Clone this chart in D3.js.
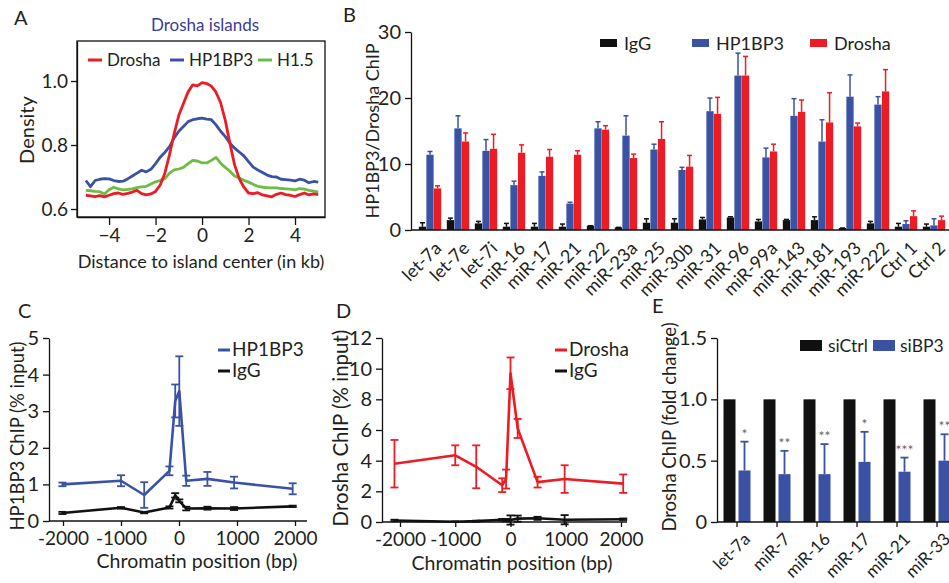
<!DOCTYPE html>
<html><head><meta charset="utf-8">
<script src="https://cdn.jsdelivr.net/npm/d3@7"></script>
<style>
body{margin:0;background:#fff;}
svg{display:block;font-family:Lato,"Open Sans",sans-serif;}
</style></head><body>
<svg id="fig" width="949" height="583"></svg>
<script>
// ---------- Panel A data ----------
const aKb = [-5.0,-4.8,-4.6,-4.4,-4.2,-4.0,-3.8,-3.6,-3.4,-3.2,-3.0,-2.8,-2.6,-2.4,-2.2,-2.0,-1.8,-1.6,-1.4,-1.2,-1.0,-0.8,-0.6,-0.4,-0.2,0.0,0.2,0.4,0.6,0.8,1.0,1.2,1.4,1.6,1.8,2.0,2.2,2.4,2.6,2.8,3.0,3.2,3.4,3.6,3.8,4.0,4.2,4.4,4.6,4.8,5.0];
const aDrosha = [0.643,0.641,0.639,0.642,0.638,0.643,0.648,0.650,0.646,0.649,0.653,0.658,0.648,0.644,0.647,0.655,0.675,0.712,0.770,0.835,0.893,0.930,0.966,0.988,0.985,0.995,0.992,0.984,0.965,0.932,0.877,0.805,0.738,0.695,0.668,0.650,0.648,0.651,0.644,0.641,0.638,0.646,0.650,0.645,0.643,0.639,0.645,0.650,0.644,0.647,0.645];
const aHP1BP3 = [0.689,0.670,0.689,0.693,0.695,0.694,0.689,0.686,0.687,0.694,0.703,0.712,0.721,0.716,0.724,0.742,0.762,0.777,0.795,0.822,0.843,0.858,0.873,0.879,0.882,0.884,0.881,0.879,0.863,0.843,0.826,0.806,0.790,0.778,0.766,0.748,0.731,0.722,0.714,0.706,0.701,0.700,0.693,0.692,0.690,0.688,0.693,0.690,0.682,0.686,0.684];
const aH15 = [0.658,0.657,0.655,0.654,0.647,0.660,0.668,0.663,0.660,0.661,0.663,0.667,0.669,0.671,0.678,0.685,0.689,0.695,0.712,0.722,0.725,0.730,0.742,0.752,0.750,0.744,0.744,0.752,0.761,0.743,0.730,0.718,0.703,0.697,0.690,0.684,0.677,0.671,0.668,0.667,0.666,0.666,0.664,0.663,0.662,0.660,0.664,0.662,0.658,0.656,0.653];
const aYTicks = [0.6,0.8,1.0];
const aXTicks = [-4,-2,0,2,4];

// ---------- Panel B data ----------
const bCats = ["let-7a","let-7e","let-7i","miR-16","miR-17","miR-21","miR-22","miR-23a","miR-25","miR-30b","miR-31","miR-96","miR-99a","miR-143","miR-181","miR-193","miR-222","Ctrl 1","Ctrl 2"];
const bSeries = ["IgG","HP1BP3","Drosha"];
const bIgG    = [0.5,1.5,1.0,0.5,0.5,0.5,0.65,0.4,1.1,1.1,1.6,1.9,1.3,1.5,1.5,0.3,1.0,0.5,0.5];
const bIgGErr = [0.6,0.3,0.3,0.5,0.5,0.4,0.0,0.0,0.6,0.6,0.3,0.1,0.3,0.1,0.5,0.0,0.3,0.5,0.4];
const bHP     = [11.4,15.4,12.0,6.8,8.2,4.0,15.4,14.3,12.2,9.1,18.0,23.4,11.0,17.3,13.4,20.2,19.0,0.9,0.7];
const bHPErr  = [0.5,1.9,1.7,0.6,0.6,0.2,1.0,3.0,0.8,0.4,2.0,3.4,1.4,2.6,3.3,3.3,1.2,0.5,1.0];
const bDro    = [6.3,13.4,12.3,11.7,11.1,11.4,15.2,10.9,13.8,9.6,17.6,23.4,11.9,17.9,16.3,15.7,21.0,2.1,1.5];
const bDroErr = [0.4,1.3,2.2,1.2,1.1,0.6,0.6,0.6,2.6,1.7,2.5,2.9,1.1,1.8,4.5,0.5,3.3,0.8,0.6];
const bYTicks = [0,10,20,30];

// ---------- Panel C data ----------
const cX      = [-2010,-1000,-600,-165,-65,5,125,490,950,1960];
const cHP     = [1.0,1.1,0.71,1.37,3.28,3.55,1.1,1.15,1.05,0.88];
const cHPErr  = [0.05,0.15,0.35,0.12,0.45,0.95,0.14,0.19,0.16,0.15];
const cIgG    = [0.22,0.36,0.23,0.37,0.70,0.55,0.34,0.35,0.34,0.40];
const cIgGErr = [0.03,0.02,0.02,0.03,0.06,0.04,0.05,0.04,0.04,0.02];
const cYTicks = [0,1,2,3,4,5];
const cXTicks = [-2000,-1000,0,1000,2000];

// ---------- Panel D data ----------
const dX      = [-2100,-1000,-620,-150,-80,0,130,490,980,2040];
const dDro    = [3.8,4.35,3.6,2.4,2.8,9.7,6.1,2.6,2.8,2.5];
const dDroErr = [1.55,0.65,1.4,0.45,0.62,1.03,0.62,0.35,0.9,0.6];
const dIgG    = [0.1,0.02,0.06,0.15,0.12,0.13,0.22,0.24,0.15,0.18];
const dIgGErr = [0.05,0.02,0.03,0.05,0.08,0.3,0.2,0.1,0.3,0.05];
const dYTicks = [0,2,4,6,8,10,12];
const dXTicks = [-2000,-1000,0,1000,2000];

// ---------- Panel E data ----------
const eCats   = ["let-7a","miR-7","miR-16","miR-17","miR-21","miR-33"];
const eSeries = ["siCtrl","siBP3"];
const eCtrl   = [1,1,1,1,1,1];
const eBP3    = [0.42,0.39,0.39,0.49,0.41,0.50];
const eBP3Err = [0.235,0.19,0.245,0.245,0.115,0.215];
const eSig    = ["*","**","**","*","***","**"];
const eYTicks = [0,0.5,1.0,1.5];

// ---------- styles ----------
const RED = "#ec1c24", BLUE = "#3a52a3", GREEN = "#6cbd45", BLK = "#111", TXT = "#231f20";
const FS = 19;
const svg = d3.select("#fig");

function styleAxis(g, fs){
  g.selectAll("path,line").attr("stroke", BLK).attr("stroke-width", 1.3);
  g.selectAll("text").attr("fill", TXT).style("font-size", (fs||FS)+"px").style("font-family","Lato,'Open Sans',sans-serif");
}
function label(x, y, t, opts){
  opts = opts||{};
  const el = svg.append("text").attr("x",x).attr("y",y).text(t)
    .attr("fill", opts.fill||TXT).style("font-size",(opts.fs||FS)+"px")
    .attr("text-anchor", opts.anchor||"start");
  if (opts.rot) el.attr("transform",`rotate(${opts.rot},${x},${y})`);
  return el;
}
const fmtMinus = d => (d<0 ? "\u2212"+Math.abs(d) : String(d));
const fmtPlain = d => String(d);

// ================= PANEL A =================
{
  const x = d3.scaleLinear().domain([-5.38,5.29]).range([77,325]);
  const y = d3.scaleLinear().domain([0.575,1.125]).range([217,41]);
  svg.append("rect").attr("x",x.range()[0]).attr("y",y.range()[1])
     .attr("width",x.range()[1]-x.range()[0]).attr("height",y.range()[0]-y.range()[1])
     .attr("fill","none").attr("stroke",BLK).attr("stroke-width",1.3);
  const gy = svg.append("g").attr("transform",`translate(${x.range()[0]},0)`)
     .call(d3.axisLeft(y).tickValues(aYTicks).tickFormat(d3.format(".1f")).tickSize(6).tickSizeOuter(0).tickPadding(3));
  styleAxis(gy);
  const gx = svg.append("g").attr("transform",`translate(0,${y.range()[0]})`)
     .call(d3.axisBottom(x).tickValues(aXTicks).tickFormat(fmtMinus).tickSize(8).tickSizeOuter(0).tickPadding(4));
  styleAxis(gx);
  const line = d3.line().x((d,i)=>x(aKb[i])).y(d=>y(d));
  [[aH15,GREEN],[aHP1BP3,BLUE],[aDrosha,RED]].forEach(([s,c])=>{
    svg.append("path").datum(s).attr("d",line).attr("fill","none").attr("stroke",c).attr("stroke-width",2.8).attr("stroke-linejoin","round");
  });
  const leg = [["Drosha",RED,88],["HP1BP3",BLUE,170],["H1.5",GREEN,258]];
  leg.forEach(([t,c,lx])=>{
    svg.append("line").attr("x1",lx).attr("x2",lx+14).attr("y1",60).attr("y2",60).attr("stroke",c).attr("stroke-width",3);
    label(lx+19,66,t,{fs:17});
  });
  label(205,31,"Drosha islands",{fill:"#3c3c9c",anchor:"middle",fs:17});
  label(14,25,"A",{fs:20});
  label(34,130,"Density",{anchor:"middle",rot:-90,fs:20});
  label(201,268,"Distance to island center (in kb)",{anchor:"middle",fs:18});
}

// ================= PANEL B =================
{
  const x = d3.scaleBand().domain(bCats).range([416,948]).paddingInner(0.18).paddingOuter(0.09);
  const xi = d3.scaleBand().domain(bSeries).range([0,x.bandwidth()]).padding(0.04);
  const y = d3.scaleLinear().domain([0,30]).range([230,32]);
  const vals = {IgG:[bIgG,bIgGErr,BLK], HP1BP3:[bHP,bHPErr,BLUE], Drosha:[bDro,bDroErr,RED]};
  bSeries.forEach(s=>{
    const [v,e,c] = vals[s];
    const g = svg.append("g");
    const cxf = d => x(d)+xi(s)+xi.bandwidth()/2;
    g.selectAll("line.err").data(bCats).join("line")
      .attr("x1",cxf).attr("x2",cxf)
      .attr("y1",(d,i)=>y(v[i])).attr("y2",(d,i)=>y(v[i]+e[i])).attr("stroke",c).attr("stroke-width",1.5);
    g.selectAll("line.cap").data(bCats).join("line")
      .attr("x1",d=>cxf(d)-2.5).attr("x2",d=>cxf(d)+2.5)
      .attr("y1",(d,i)=>y(v[i]+e[i])).attr("y2",(d,i)=>y(v[i]+e[i])).attr("stroke",c).attr("stroke-width",1.5);
    g.selectAll("rect").data(bCats).join("rect")
      .attr("x",d=>x(d)+xi(s)).attr("width",xi.bandwidth())
      .attr("y",(d,i)=>y(v[i])).attr("height",(d,i)=>y(0)-y(v[i])).attr("fill",c);
  });
  const gy = svg.append("g").attr("transform",`translate(411,0)`)
     .call(d3.axisLeft(y).tickValues(bYTicks).tickSize(6).tickSizeOuter(0).tickPadding(4));
  styleAxis(gy, 20);
  const gx = svg.append("g").attr("transform",`translate(0,${y(0)})`)
     .call(d3.axisBottom(x).tickSize(0).tickSizeOuter(0));
  styleAxis(gx, 18);
  gx.select(".domain").attr("d","M411,0H949");
  gx.selectAll("text").attr("x",0).attr("y",0).attr("dy","0.35em")
    .attr("transform","translate(8,15) rotate(-45)").style("text-anchor","end");
  const leg = [["IgG",BLK,600],["HP1BP3",BLUE,692],["Drosha",RED,810]];
  leg.forEach(([t,c,lx])=>{
    svg.append("rect").attr("x",lx).attr("y",39).attr("width",17).attr("height",8).attr("fill",c);
    label(lx+24,50,t,{fs:18});
  });
  label(343,22,"B",{fs:20});
  label(379,131,"HP1BP3/Drosha ChIP",{anchor:"middle",rot:-90,fs:18});
}

// ========== helper for line panels ==========
function linePanel(cfg){
  const x = d3.scaleLinear().domain([-2000,2000]).range(cfg.xr);
  const y = d3.scaleLinear().domain([0,cfg.ymax]).range([cfg.y0,338]);
  const gy = svg.append("g").attr("transform",`translate(${cfg.ax},0)`)
     .call(d3.axisLeft(y).tickValues(cfg.yt).tickFormat(fmtPlain).tickSize(6).tickSizeOuter(0).tickPadding(4));
  styleAxis(gy, 20);
  const gx = svg.append("g").attr("transform",`translate(0,${cfg.y0})`)
     .call(d3.axisBottom(x).tickValues(cfg.xt).tickFormat(fmtPlain).tickSize(5).tickSizeOuter(0).tickPadding(6));
  styleAxis(gx, 19);
  gx.select(".domain").attr("d",`M${cfg.ax},0H${cfg.axEnd}`);
  cfg.series.forEach(([xs,v,e,c])=>{
    const g = svg.append("g");
    const line = d3.line().x((d,i)=>x(xs[i])).y(d=>y(d));
    g.append("path").datum(v).attr("d",line).attr("fill","none").attr("stroke",c).attr("stroke-width",2.6).attr("stroke-linejoin","round");
    g.selectAll("line.v").data(v).join("line").attr("x1",(d,i)=>x(xs[i])).attr("x2",(d,i)=>x(xs[i]))
      .attr("y1",(d,i)=>y(d-e[i])).attr("y2",(d,i)=>y(d+e[i])).attr("stroke",c).attr("stroke-width",1.8);
    [-1,1].forEach(sg=>{
      g.selectAll("line.c"+sg).data(v).join("line").attr("x1",(d,i)=>x(xs[i])-4).attr("x2",(d,i)=>x(xs[i])+4)
        .attr("y1",(d,i)=>y(d+sg*e[i])).attr("y2",(d,i)=>y(d+sg*e[i])).attr("stroke",c).attr("stroke-width",1.8);
    });
  });
  cfg.legend.forEach(([t,c,ly])=>{
    svg.append("line").attr("x1",cfg.lx).attr("x2",cfg.lx+12).attr("y1",ly).attr("y2",ly).attr("stroke",c).attr("stroke-width",3);
    label(cfg.lx+14,ly+6,t,{fs:19});
  });
}

// ================= PANEL C =================
linePanel({xr:[63,295], ymax:5, y0:521, ax:49, axEnd:307, yt:cYTicks, xt:cXTicks,
  series:[[cX,cIgG,cIgGErr,BLK],[cX,cHP,cHPErr,BLUE]],
  legend:[["HP1BP3",BLUE,350],["IgG",BLK,371]], lx:218});
label(18,318,"C",{fs:20});
label(24,436,"HP1BP3 ChIP (% input)",{anchor:"middle",rot:-90,fs:18.5});
label(197,568,"Chromatin position (bp)",{anchor:"middle",fs:19.5});

// ================= PANEL D =================
linePanel({xr:[400,621], ymax:12, y0:522, ax:382, axEnd:627, yt:dYTicks, xt:dXTicks,
  series:[[dX,dIgG,dIgGErr,BLK],[dX,dDro,dDroErr,RED]],
  legend:[["Drosha",RED,350],["IgG",BLK,371]], lx:555});
label(336,318,"D",{fs:20});
label(348,428,"Drosha ChIP (% input)",{anchor:"middle",rot:-90,fs:20.5});
label(512,570,"Chromatin position (bp)",{anchor:"middle",fs:19.5});

// ================= PANEL E =================
{
  const x = d3.scaleBand().domain(eCats).range([717,957]).paddingInner(0.325).paddingOuter(0.1625);
  const xi = d3.scaleBand().domain(eSeries).range([0,x.bandwidth()]).paddingInner(0.2);
  const y = d3.scaleLinear().domain([0,1.5]).range([522,338]);
  const cx = d => x(d)+xi("siBP3")+xi.bandwidth()/2;
  svg.append("g").selectAll("line").data(eCats).join("line")
    .attr("x1",cx).attr("x2",cx).attr("y1",(d,i)=>y(eBP3[i])).attr("y2",(d,i)=>y(eBP3[i]+eBP3Err[i]))
    .attr("stroke",BLUE).attr("stroke-width",1.8);
  svg.append("g").selectAll("line").data(eCats).join("line")
    .attr("x1",d=>cx(d)-4).attr("x2",d=>cx(d)+4).attr("y1",(d,i)=>y(eBP3[i]+eBP3Err[i])).attr("y2",(d,i)=>y(eBP3[i]+eBP3Err[i]))
    .attr("stroke",BLUE).attr("stroke-width",1.8);
  svg.append("g").selectAll("rect").data(eCats).join("rect")
    .attr("x",d=>x(d)+xi("siCtrl")).attr("width",xi.bandwidth()).attr("y",(d,i)=>y(eCtrl[i])).attr("height",(d,i)=>y(0)-y(eCtrl[i])).attr("fill",BLK);
  svg.append("g").selectAll("rect").data(eCats).join("rect")
    .attr("x",d=>x(d)+xi("siBP3")).attr("width",xi.bandwidth()).attr("y",(d,i)=>y(eBP3[i])).attr("height",(d,i)=>y(0)-y(eBP3[i])).attr("fill",BLUE);
  svg.append("g").selectAll("text").data(eCats).join("text")
    .attr("x",cx).attr("y",(d,i)=>y(eBP3[i]+eBP3Err[i])-3).attr("text-anchor","middle")
    .attr("fill","#666").style("font-size","14px").text((d,i)=>eSig[i]);
  const gy = svg.append("g").attr("transform",`translate(717,0)`)
     .call(d3.axisLeft(y).tickValues(eYTicks).tickFormat(d=>d===0?"0":d3.format(".1f")(d)).tickSize(6).tickSizeOuter(0).tickPadding(4));
  styleAxis(gy, 20);
  const gx = svg.append("g").attr("transform",`translate(0,522)`)
     .call(d3.axisBottom(x).tickSize(5).tickSizeOuter(0));
  styleAxis(gx, 17);
  gx.select(".domain").attr("d","M717,0H949");
  gx.selectAll("text").attr("x",0).attr("y",0).attr("dy","0.35em")
    .attr("transform","translate(10,14) rotate(-45)").style("text-anchor","end");
  svg.append("rect").attr("x",800).attr("y",340).attr("width",22).attr("height",11).attr("fill",BLK);
  label(828,352,"siCtrl",{fs:17.5});
  svg.append("rect").attr("x",873).attr("y",340).attr("width",22).attr("height",11).attr("fill",BLUE);
  label(900,352,"siBP3",{fs:17.5});
  label(652,313,"E",{fs:20});
  label(676,427,"Drosha ChIP (fold change)",{anchor:"middle",rot:-90,fs:18.5});
}
</script>
</body></html>
